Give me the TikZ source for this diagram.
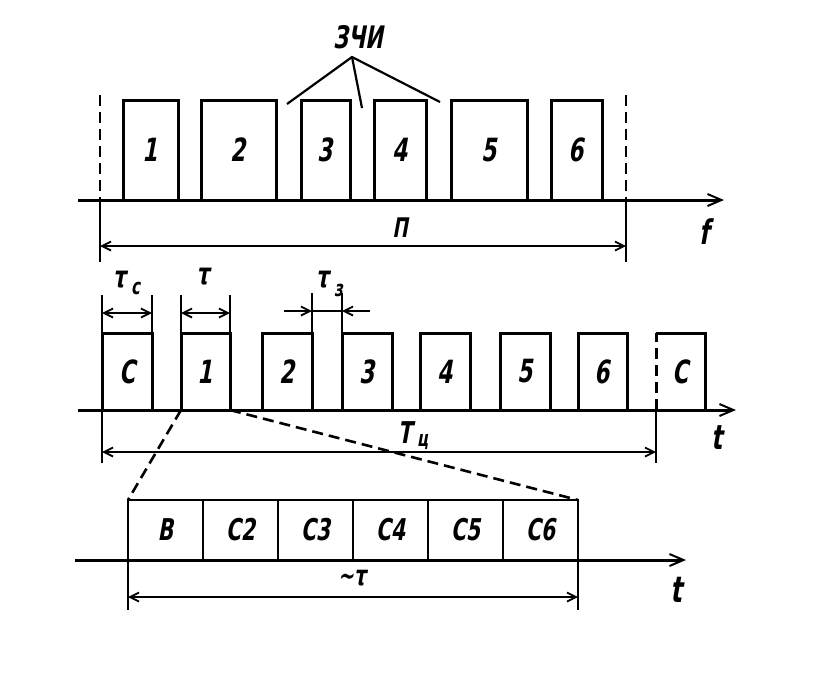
\documentclass[tikz,border=0pt]{standalone}
\usepackage{fontspec}
\newfontfamily\lab[FakeStretch=0.68,FakeSlant=0.18]{DejaVu Sans}
\usetikzlibrary{arrows.meta}
\tikzset{
  boxf/.style={draw, line width=3pt, inner sep=0pt, outer sep=0pt, anchor=south west, font=\lab\bfseries\fontsize{32}{32}\selectfont},
  cellf/.style={draw, line width=2.8pt, inner sep=0pt, outer sep=0pt, anchor=south west, minimum width=75pt, minimum height=60pt, font=\lab\bfseries\fontsize{30}{30}\selectfont},
  axisline/.style={line width=3pt, -{Straight Barb[length=14pt,width=12pt,line width=2pt]}},
  extline/.style={line width=2.4pt},
  dimline/.style={line width=1.8pt, {Straight Barb[length=9pt,width=9pt]}-{Straight Barb[length=9pt,width=9pt]}},
  halfdim/.style={line width=1.8pt, -{Straight Barb[length=9pt,width=9pt]}},
  lbl/.style={inner sep=0pt, font=\lab\bfseries\fontsize{30}{30}\selectfont},
  sublbl/.style={inner sep=0pt, font=\lab\bfseries\fontsize{22}{22}\selectfont},
  dashline/.style={line width=2.6pt, dash pattern=on 11pt off 6pt},
}
\begin{document}
\begin{tikzpicture}[x=1pt,y=-1pt]
\useasboundingbox (0,0) rectangle (821,689);
% ---------- top: frequency ----------
\coordinate (fa0) at (78,200);
\coordinate (fa1) at (724,200);
\draw[axisline] (fa0) -- (fa1);
\node[boxf, minimum width=55pt, minimum height=100pt] (f1) at (123,200) {1};
\node[boxf, minimum width=75pt, minimum height=100pt] (f2) at (201,200) {2};
\node[boxf, minimum width=49pt, minimum height=100pt] (f3) at (301,200) {3};
\node[boxf, minimum width=52pt, minimum height=100pt] (f4) at (374,200) {4};
\node[boxf, minimum width=76pt, minimum height=100pt] (f5) at (451,200) {5};
\node[boxf, minimum width=51pt, minimum height=100pt] (f6) at (551,200) {6};
\coordinate (dl0) at (100,95);
\coordinate (dl1) at (100,200);
\coordinate (dl2) at (100,262);
\coordinate (dr0) at (626,95);
\coordinate (dr1) at (626,200);
\coordinate (dr2) at (626,262);
\draw[dashline] (dl0) -- (dl1);
\draw[dashline] (dr0) -- (dr1);
\draw[extline] (dl1) -- (dl2);
\draw[extline] (dr1) -- (dr2);
\coordinate (pa) at (100,246);
\coordinate (pb) at (626,246);
\draw[dimline] (pa) -- (pb);
\node[lbl, font=\lab\bfseries\fontsize{27}{27}\selectfont] (P) at (400,228) {П};
\node[lbl, font=\lab\bfseries\fontsize{34}{34}\selectfont] (flab) at (705,232) {f};
\node[lbl, font=\lab\bfseries\fontsize{31}{31}\selectfont] (zchi) at (358,37) {ЗЧИ};
\coordinate (apex) at (352,57);
\coordinate (z1) at (287,104);
\coordinate (z2) at (362,108);
\coordinate (z3) at (440,102);
\draw[line width=2.2pt] (z1) -- (apex) -- (z3);
\draw[line width=2.2pt] (apex) -- (z2);
% ---------- middle: time ----------
\coordinate (ta0) at (78,410);
\coordinate (ta1) at (736,410);
\draw[axisline] (ta0) -- (ta1);
\node[boxf, minimum width=50pt, minimum height=77pt] (mc) at (102,410) {С};
\node[boxf, minimum width=49pt, minimum height=77pt] (m1) at (181,410) {1};
\node[boxf, minimum width=50pt, minimum height=77pt] (m2) at (262,410) {2};
\node[boxf, minimum width=50pt, minimum height=77pt] (m3) at (342,410) {3};
\node[boxf, minimum width=50pt, minimum height=77pt] (m4) at (420,410) {4};
\node[boxf, minimum width=50pt, minimum height=77pt] (m5) at (500,410) {5};
\node[boxf, minimum width=49pt, minimum height=77pt] (m6) at (578,410) {6};
\node[inner sep=0pt, outer sep=0pt, anchor=south west, minimum width=49pt, minimum height=77pt, font=\lab\bfseries\fontsize{32}{32}\selectfont] (mc2) at (656,410) {С};
\draw[dashline, line width=3pt] (mc2.south west) -- (mc2.north west);
\draw[line width=3pt] (mc2.north west) -- (mc2.north east) -- (mc2.south east);
% extension lines above
\coordinate (e1) at (102,295);
\coordinate (e2) at (152,295);
\coordinate (e3) at (181,295);
\coordinate (e4) at (230,295);
\coordinate (e5) at (312,293);
\coordinate (e6) at (342,293);
\draw[extline] (e1) -- (mc.north west);
\draw[extline] (e2) -- (mc.north east);
\draw[extline] (e3) -- (m1.north west);
\draw[extline] (e4) -- (m1.north east);
\draw[extline] (e5) -- (m2.south east);
\draw[extline] (e6) -- (m3.south west);
% tau arrows
\coordinate (tc0) at (102,313);
\coordinate (tc1) at (152,313);
\coordinate (t0) at (181,313);
\coordinate (t1) at (230,313);
\draw[dimline] (tc0) -- (tc1);
\draw[dimline] (t0) -- (t1);
\coordinate (tz0) at (284,311);
\coordinate (tz1) at (312,311);
\coordinate (tz2) at (342,311);
\coordinate (tz3) at (370,311);
\draw[halfdim] (tz0) -- (tz1);
\draw[line width=1.8pt] (tz1) -- (tz2);
\draw[halfdim] (tz3) -- (tz2);
\node[lbl, anchor=east] (ltc) at (126,280) {τ};
\node[sublbl, anchor=west] (ltcs) at (131,288) {с};
\node[lbl, anchor=east] (ltz) at (329,280) {τ};
\node[sublbl, anchor=west] (ltzs) at (334,290) {з};
\node[lbl] (lt) at (203,277) {τ};
% T cycle
\coordinate (x0) at (102,463);
\coordinate (x1) at (656,463);
\draw[extline] (mc.south west) -- (x0);
\draw[extline] (mc2.south west) -- (x1);
\coordinate (ca) at (102,452);
\coordinate (cb) at (656,452);
\draw[dimline] (ca) -- (cb);
\node[lbl, anchor=east] (Tc) at (412,433) {Т};
\node[sublbl, anchor=west] (Tcs) at (417,442) {ц};
\node[lbl, font=\lab\bfseries\fontsize{34}{34}\selectfont] (tlab1) at (717,438) {t};
% ---------- bottom: expanded ----------
\coordinate (ba0) at (75,560);
\coordinate (ba1) at (686,560);
\draw[axisline] (ba0) -- (ba1);
\node[cellf] (b1) at (128,560) {В};
\node[cellf] (b2) at (203,560) {С2};
\node[cellf] (b3) at (278,560) {С3};
\node[cellf] (b4) at (353,560) {С4};
\node[cellf] (b5) at (428,560) {С5};
\node[cellf] (b6) at (503,560) {С6};
\coordinate (y0) at (128,610);
\coordinate (y1) at (578,610);
\draw[extline] (b1.south west) -- (y0);
\draw[extline] (b6.south east) -- (y1);
\coordinate (bd0) at (128,597);
\coordinate (bd1) at (578,597);
\draw[dimline] (bd0) -- (bd1);
\node[lbl, font=\lab\bfseries\fontsize{28}{28}\selectfont] (st) at (352,578) {∼τ};
\node[lbl, font=\lab\bfseries\fontsize{36}{36}\selectfont] (tlab2) at (676,590) {t};
% zoom dashed lines
\draw[dashline] (m1.south west) -- (b1.north west);
\draw[dashline] (m1.south east) -- (b6.north east);
\end{tikzpicture}
\end{document}
